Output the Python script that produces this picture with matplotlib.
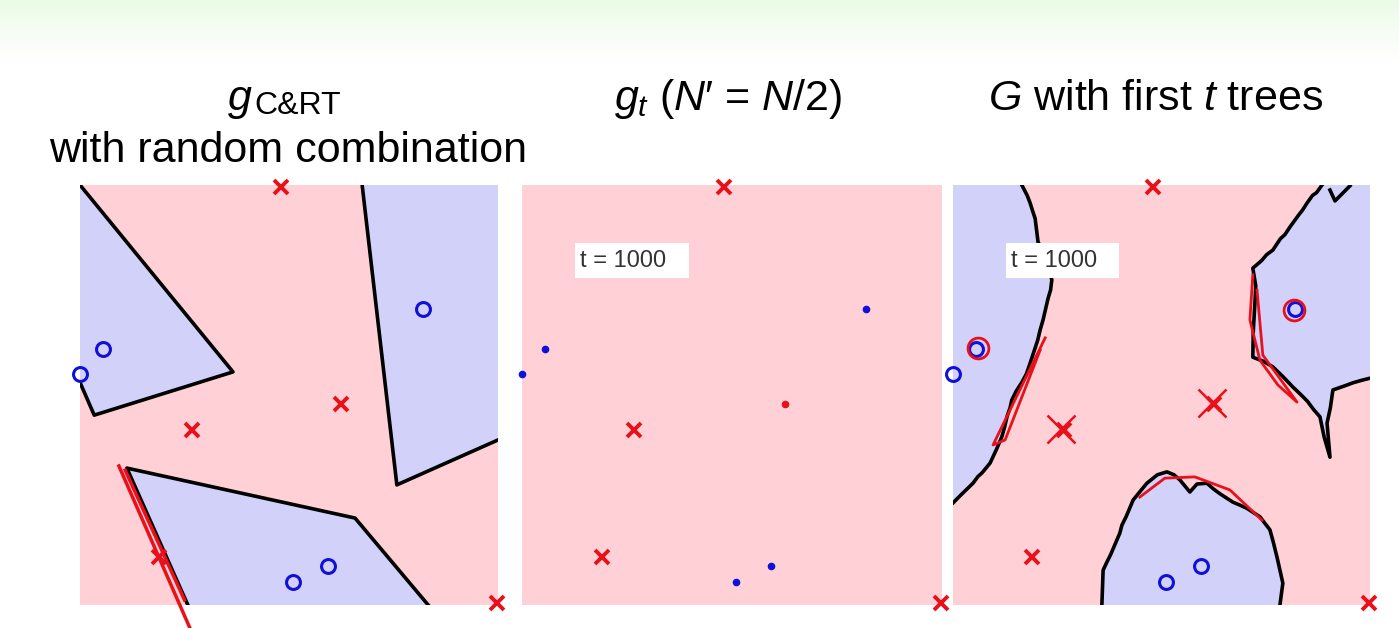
import numpy as np
import matplotlib
matplotlib.use("Agg")
from matplotlib import pyplot as plt
from matplotlib.patches import Rectangle

plt.rcParams['font.family'] = ['Liberation Sans', 'DejaVu Sans']
plt.rcParams['mathtext.fontset'] = 'custom'
plt.rcParams['mathtext.rm'] = 'Liberation Sans'
plt.rcParams['mathtext.it'] = 'Liberation Sans:italic'
plt.rcParams['mathtext.bf'] = 'Liberation Sans:bold'

# data set (same points in all three panels), unit square coordinates
circ_u = [0.0, 0.054, 0.82, 0.51, 0.594]
circ_v = [0.55, 0.61, 0.705, 0.055, 0.093]
cross_u = [0.48, 0.625, 0.267, 0.19, 0.998]
cross_v = [0.995, 0.479, 0.417, 0.115, 0.005]
# which crosses were in the bootstrap sample of g_t
cross_in_sample = [True, False, True, True, True]

# C&RT with random combination: blue regions (polygon) and drawn boundary
cart_blue_a = [(0, 1), (0.366, 0.555), (0.034, 0.452), (0, 0.53)]
cart_blue_b = [(0.675, 1), (0.758, 0.286), (1.0, 0.393), (1, 1)]
cart_blue_c = [(0.258, 0), (0.112, 0.326), (0.658, 0.207), (0.833, 0)]

# G with first t trees: blue region boundaries
G_left = [(0.165, 1.0), (0.178, 0.975), (0.185, 0.957), (0.192, 0.935), (0.197, 0.92),
          (0.204, 0.864), (0.212, 0.85), (0.222, 0.83), (0.237, 0.774), (0.234, 0.75),
          (0.228, 0.73), (0.216, 0.679), (0.209, 0.655), (0.203, 0.63), (0.185, 0.576),
          (0.176, 0.55), (0.165, 0.53), (0.152, 0.51), (0.141, 0.488), (0.137, 0.47),
          (0.13, 0.45), (0.124, 0.425), (0.117, 0.40), (0.104, 0.37), (0.097, 0.355),
          (0.089, 0.338), (0.07, 0.315), (0.06, 0.306), (0.048, 0.29), (0.022, 0.265),
          (0.0, 0.243)]
G_right = [(0.885, 1.0), (0.872, 0.982), (0.862, 0.975), (0.849, 0.957), (0.838, 0.94),
           (0.83, 0.93), (0.808, 0.900), (0.796, 0.882), (0.785, 0.872), (0.767, 0.845),
           (0.752, 0.834), (0.74, 0.82), (0.719, 0.802), (0.726, 0.76), (0.724, 0.719),
           (0.72, 0.65), (0.719, 0.590), (0.745, 0.58), (0.767, 0.567), (0.79, 0.545),
           (0.815, 0.519), (0.835, 0.50), (0.85, 0.485), (0.865, 0.465), (0.88, 0.448),
           (0.89, 0.40), (0.904, 0.352), (0.897, 0.433), (0.905, 0.47), (0.911, 0.512),
           (0.94, 0.522), (0.959, 0.529), (0.98, 0.535), (1.0, 0.540)]
G_bottom = [(0.357, 0.0), (0.360, 0.083), (0.368, 0.1), (0.378, 0.12), (0.400, 0.171),
            (0.405, 0.19), (0.415, 0.21), (0.432, 0.250), (0.45, 0.272), (0.465, 0.290),
            (0.49, 0.31), (0.513, 0.317), (0.53, 0.31), (0.544, 0.298), (0.568, 0.269),
            (0.585, 0.288), (0.609, 0.290), (0.625, 0.276), (0.64, 0.265), (0.671, 0.245),
            (0.69, 0.237), (0.705, 0.23), (0.736, 0.210), (0.760, 0.179), (0.768, 0.15),
            (0.777, 0.114), (0.791, 0.052), (0.784, 0.0)]
G_island = [(0.904, 0.988), (0.916, 0.962), (0.952, 0.998)]

# hand-written red annotations on the slide
note_p1 = [[(0.093, 0.331), (0.263, -0.055)],
           [(0.108, 0.321), (0.25, 0.012)]]
note_p3 = [[(0.221, 0.636), (0.096, 0.381), (0.125, 0.393), (0.209, 0.607)],
           [(0.719, 0.786), (0.712, 0.679), (0.736, 0.583), (0.779, 0.524), (0.825, 0.483),
            (0.743, 0.595), (0.729, 0.75)],
           [(0.448, 0.257), (0.508, 0.302), (0.580, 0.305), (0.664, 0.274), (0.741, 0.202)]]
note_p3_loops_u = [0.06, 0.818]
note_p3_loops_v = [0.612, 0.702]
note_p3_x_u = [0.26, 0.62]
note_p3_x_v = [0.42, 0.48]

pink = '#ffd1d6'
blue = '#d1d1fa'
red = '#e8101a'
mblue = '#1010d8'

W, H = 1399, 628
fig = plt.figure(figsize=(W / 100, H / 100), dpi=100)

# slide background: pale green band at the top
bg = fig.add_axes([0, 0, 1, 1], zorder=-10)
grad = np.ones((H, 1, 3))
top = np.array([0.92, 0.985, 0.905])
for i in range(58):
    f = i / 58
    grad[i, 0] = top * (1 - f) + np.array([1, 1, 1]) * f
bg.imshow(grad, aspect='auto', extent=[0, 1, 0, 1])
bg.set_axis_off()


def panel(left, width):
    ax = fig.add_axes([left / W, (H - 605) / H, width / W, 420 / H])
    ax.set_xlim(0, 1)
    ax.set_ylim(0, 1)
    ax.set_facecolor(pink)
    ax.set_xticks([])
    ax.set_yticks([])
    for s in ax.spines.values():
        s.set_visible(False)
    return ax


def points(ax, small=False):
    if small:
        ax.plot(circ_u, circ_v, 'o', color=mblue, ms=4.5, clip_on=False, zorder=5)
        for u, v, s in zip(cross_u, cross_v, cross_in_sample):
            if s:
                ax.plot(u, v, 'x', color=red, ms=10, mew=2.8, clip_on=False, zorder=5)
            else:
                ax.plot(u, v, 'o', color=red, ms=4.5, clip_on=False, zorder=5)
    else:
        ax.plot(circ_u, circ_v, 'o', mfc='none', mec=mblue, ms=10, mew=2.2, clip_on=False, zorder=5)
        ax.plot(cross_u, cross_v, 'x', color=red, ms=10, mew=2.8, clip_on=False, zorder=5)


def tbox(ax):
    ax.add_patch(Rectangle((0.126, 0.779), 0.272, 0.083, transform=ax.transAxes,
                           fc='white', ec='none', zorder=6))
    ax.text(0.138, 0.82, 't = 1000', fontsize=17, color='#333333', va='center', ha='left',
            transform=ax.transAxes, zorder=7)


# panel 1: g_C&RT with random combination
ax1 = panel(80, 418)
for poly in [cart_blue_a, cart_blue_b, cart_blue_c]:
    ax1.fill([p[0] for p in poly], [p[1] for p in poly], color=blue, lw=0)
ax1.plot([p[0] for p in cart_blue_a], [p[1] for p in cart_blue_a], color='black', lw=2.6)
ax1.plot([p[0] for p in cart_blue_b[:3]], [p[1] for p in cart_blue_b[:3]], color='black', lw=2.6)
ax1.plot([p[0] for p in cart_blue_c], [p[1] for p in cart_blue_c], color='black', lw=2.6)
points(ax1)
for s in note_p1:
    ax1.plot([p[0] for p in s], [p[1] for p in s], color=red, lw=2.5, clip_on=False, zorder=7)

# panel 2: g_t
ax2 = panel(522, 420)
points(ax2, small=True)
tbox(ax2)

# panel 3: G with first t trees
ax3 = panel(953, 417)
ax3.fill([0] + [p[0] for p in G_left], [1] + [p[1] for p in G_left], color=blue, lw=0)
ax3.fill([p[0] for p in G_right] + [1], [p[1] for p in G_right] + [1], color=blue, lw=0)
ax3.fill([p[0] for p in G_bottom], [p[1] for p in G_bottom], color=blue, lw=0)
for c in [G_left, G_right, G_bottom, G_island]:
    ax3.plot([p[0] for p in c], [p[1] for p in c], color='black', lw=2.6, solid_joinstyle='round')
points(ax3)
tbox(ax3)
for s in note_p3:
    ax3.plot([p[0] for p in s], [p[1] for p in s], color=red, lw=2, zorder=8)
ax3.plot(note_p3_loops_u, note_p3_loops_v, 'o', mfc='none', mec=red, ms=15, mew=2, zorder=8)
ax3.plot(note_p3_x_u, note_p3_x_v, 'x', color=red, ms=20, mew=1.8, zorder=8)

# titles
fs = 31
fig.text(252 / W, (H - 110) / H, 'g', fontsize=fs, style='italic', ha='right', va='baseline')
fig.text(254 / W, (H - 114) / H, 'C&RT', fontsize=23, ha='left', va='baseline')
fig.text(288 / W, (H - 162) / H, 'with random combination', fontsize=fs, ha='center', va='baseline')
fig.text(728 / W, (H - 110) / H, "$g_t$ ($N$\u2032 = $N$/2)", fontsize=fs, ha='center', va='baseline')
fig.text(1156 / W, (H - 110) / H, r'$G$ with first $t$ trees', fontsize=fs, ha='center', va='baseline')

fig.savefig('out.png', dpi=100)
